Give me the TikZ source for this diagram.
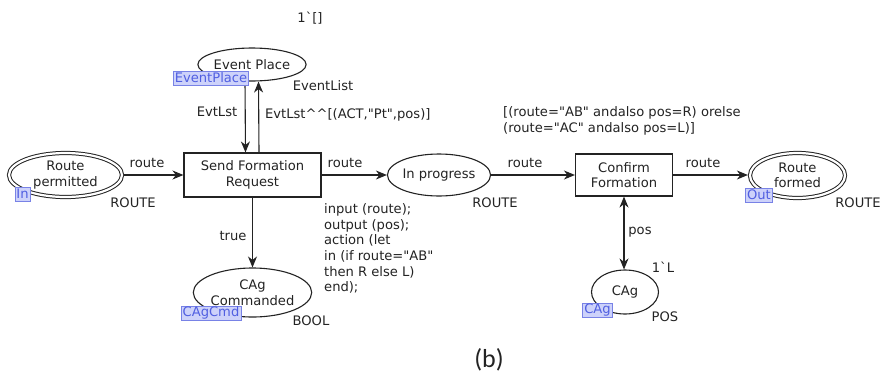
\documentclass[tikz,border=0pt]{standalone}
\usepackage{fontspec}
\newfontfamily\cpn{DejaVu Sans}
\newfontfamily\capfont{Carlito}
\usetikzlibrary{shapes.geometric,arrows.meta}
\definecolor{linec}{RGB}{35,35,35}
\definecolor{textc}{RGB}{35,35,35}
\definecolor{tagfill}{RGB}{205,210,250}
\definecolor{tagline}{RGB}{120,130,230}
\definecolor{tagtext}{RGB}{80,95,225}
\tikzset{
  txt/.style={font=\cpn\fontsize{13.1}{15.6}\selectfont, text=textc},
  place/.style={txt, ellipse, draw=linec, line width=1.1pt, inner sep=0pt, align=center},
  portplace/.style={place, double=white, double distance=2.2pt, line width=1pt, outer sep=2.1pt},
  trans/.style={txt, rectangle, draw=linec, line width=1.1pt, inner sep=0pt, align=center},
  arc/.style={draw=linec, line width=1.1pt, -{Stealth[length=11pt,width=9pt,inset=3.5pt]}},
  biarc/.style={draw=linec, line width=1.1pt, {Stealth[length=11pt,width=9pt,inset=3.5pt]}-{Stealth[length=11pt,width=9pt,inset=3.5pt]}},
  lbl/.style={txt, inner sep=0pt},
  tag/.style={txt, draw=tagline, fill=tagfill, text=tagtext, line width=0.6pt,
    inner xsep=1.5pt, inner ysep=1pt, text height=9.8pt, text depth=2.6pt}
}
\begin{document}
\begin{tikzpicture}[x=1pt,y=-1pt]
\useasboundingbox (0,0) rectangle (886,378);
\fill[white] (0,0) rectangle (886,378);

% places and transitions
\node[place, minimum width=106pt, minimum height=33pt] (ep) at (252,64.5) {Event Place};
\node[portplace, minimum width=113pt, minimum height=44pt] (rp) at (65.5,175) {Route\\permitted};
\node[trans, minimum width=137pt, minimum height=44pt] (sfr) at (252.5,175) {Send Formation\\Request};
\node[place, minimum width=88pt, minimum height=42pt] (ip) at (439,175) {In progress};
\node[trans, minimum width=97pt, minimum height=42pt] (cf) at (624,175) {Confirm\\Formation};
\node[portplace, minimum width=95pt, minimum height=45pt] (rf) at (797.5,175.5) {Route\\formed};
\node[place, minimum width=107pt, minimum height=49pt] (cc) at (252.5,292.5) {CAg\\Commanded};
\node[place, minimum width=67pt, minimum height=44pt] (cag) at (625,292) {CAg};

% arcs
\draw[arc] (rp.east) -- (sfr.west);
\draw[arc] (sfr.east) -- (ip.west);
\draw[arc] (ip.east) -- (cf.west);
\draw[arc] (cf.east) -- (cf.east -| rf.west);
\draw[arc] ([xshift=-7pt]ep.south) -- ([xshift=-7pt]sfr.north);
\draw[arc] ([xshift=6.5pt]sfr.north) -- ([xshift=6.5pt]ep.south);
\draw[arc] (sfr.south) -- (cc.north);
\draw[biarc] (cf.south) -- (cf.south |- cag.north);

% port and fusion tags
\node[tag] (tep) at (211,78.5) {EventPlace};
\node[tag] (tin) at (22.5,194.5) {In};
\node[tag] (tout) at (759,195.5) {Out};
\node[tag] (tcc) at (211,313) {CAgCmd};
\node[tag] (tcag) at (597.5,310) {CAg};

% initial markings and colour sets
\node[lbl] (m1) at (310,18) {1\textasciigrave[]};
\node[lbl] (cs1) at (323,86) {EventList};
\node[lbl] (cs2) at (133,203) {ROUTE};
\node[lbl] (cs3) at (495,203) {ROUTE};
\node[lbl] (cs4) at (858,203) {ROUTE};
\node[lbl] (cs5) at (311,321) {BOOL};
\node[lbl] (m2) at (663,267) {1\textasciigrave L};
\node[lbl] (cs6) at (665,317) {POS};

% arc inscriptions
\node[lbl] (a1) at (147,163) {route};
\node[lbl] (a2) at (345,163) {route};
\node[lbl] (a3) at (525,163) {route};
\node[lbl] (a4) at (703,163) {route};
\node[lbl] (a5) at (217,112) {EvtLst};
\node[lbl, anchor=west] (a6) at (265,115) {EvtLst\textasciicircum\textasciicircum[(ACT,"Pt",pos)]};
\node[lbl] (a7) at (233,236) {true};
\node[lbl] (a8) at (640,232) {pos};

% guard and code segment
\node[lbl, anchor=west, align=left] (guard) at (503,121) {[(route="AB" andalso pos=R) orelse\\(route="AC" andalso pos=L)]};
\node[lbl, anchor=west, align=left] (code) at (324,248.5) {input (route);\\output (pos);\\action (let\\in (if route="AB"\\then R else L)\\end);};

% caption
\node[font=\capfont\fontsize{26}{30}\selectfont, text=textc] (cap) at (489,360) {(b)};
\end{tikzpicture}
\end{document}
